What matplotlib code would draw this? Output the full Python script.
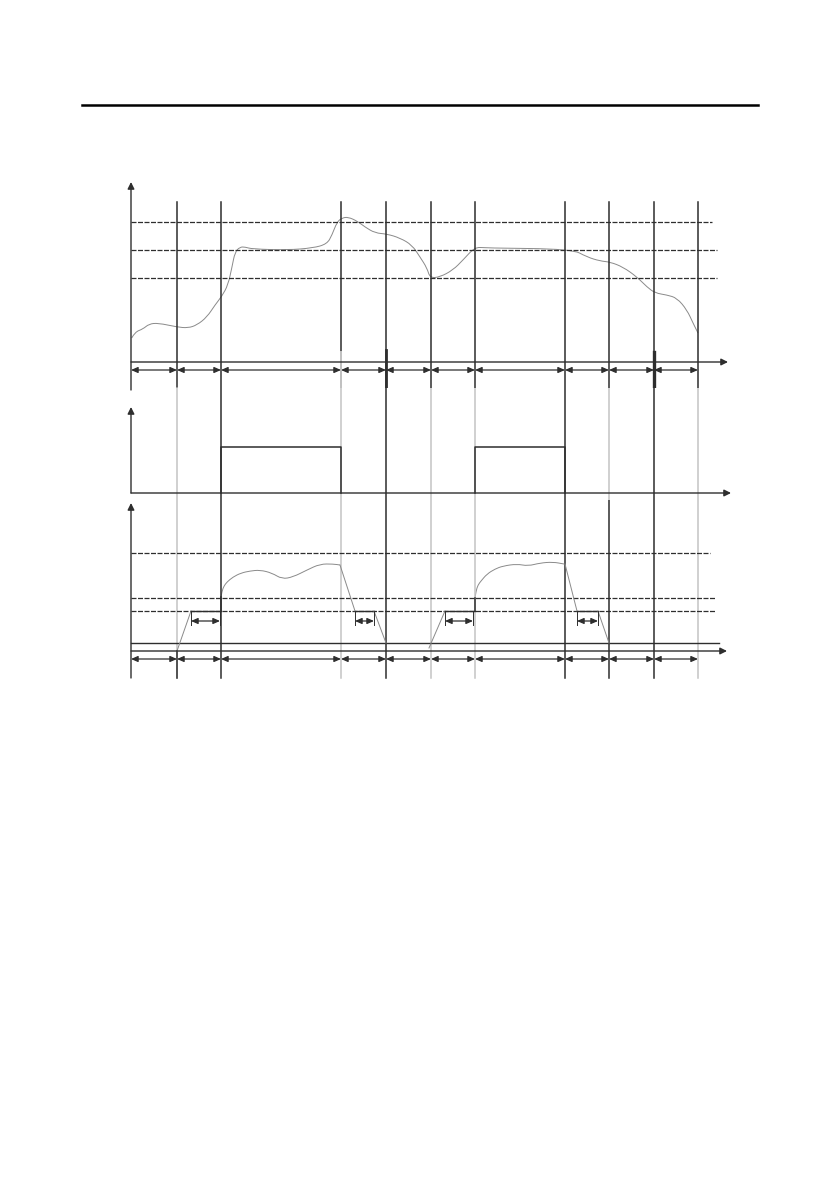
import matplotlib
matplotlib.use("Agg")
import matplotlib.pyplot as plt
from matplotlib.lines import Line2D
from matplotlib.path import Path
from matplotlib.patches import PathPatch

W, H = 839, 1191
DARK = "#2e2e2e"
LIGHT = "#c4c4c4"
CURVE = "#8a8a8a"

# ---------------- data ----------------
# event times (vertical markers), first is the origin
event_t = [0, 46, 90, 210, 255, 300, 344, 434, 478, 523, 567]

# top panel: speed reference levels and speed curve
top_levels = [84, 112, 140]
top_level_end = [586, 586, 581]
speed_t = [0.7, 4, 12, 18, 27, 46, 57, 66, 76, 84, 91, 97, 101, 104, 109, 114, 121, 156, 182,
           196, 201, 206, 211, 217, 226, 234, 244, 256, 269, 281, 289, 296, 299, 309, 322, 332,
           344, 354, 441, 456, 469, 479, 492, 506, 516, 524, 536, 546, 556, 562, 567]
speed_v = [24, 30, 33, 38, 39, 35, 34, 37, 45, 57, 66, 77, 95, 110, 115, 115, 113, 112, 114,
           118, 127, 140, 144, 145, 141, 135, 129, 128, 124, 117, 105, 94, 84, 85, 92, 102,
           115, 114, 113, 105, 101, 100, 95, 85, 75, 69, 67, 64, 52, 39, 29]

# middle panel: on/off signal
pulse_on = [90, 344]
pulse_off = [210, 434]
pulse_level = 46

# bottom panel: levels and output curve
bot_levels = [40, 53, 98]
bot_level_end = [585, 585, 579]
bot_solid_level = 8
bot_solid_end = 588
ramp_up_t = [[46, 60], [298, 314]]
ramp_up_v = [[0, 40], [3, 40]]
hold1_t = [[60, 90], [314, 344]]
step_v = [[40, 54], [40, 53]]
curve_t = [[90, 91, 93, 96, 102, 110, 119, 129, 141, 151, 162, 176, 189, 202, 209],
           [344, 345, 347, 350, 356, 364, 372, 386, 397, 409, 422, 433]]
curve_v = [[54, 60, 65, 69, 74, 78, 80, 81, 78, 72, 74, 81, 87, 87, 86],
           [53, 60, 66, 70, 77, 82, 85, 87, 85, 88, 89, 87]]
drop_t = [[209, 224], [434, 446]]
drop_v = [[86, 40], [87, 40]]
hold2_t = [[224, 243], [446, 467]]
ramp_dn_t = [[243, 255], [467, 478]]
ramp_dn_v = [[40, 8], [40, 8]]
small_arrows = [(60, 89), (224, 243), (314, 342), (446, 467)]

# vertical line colours per panel (for event_t[1:])
mid_dark = [False, True, False, True, False, False, True, False, True, False]
bot_dark = [False, True, False, True, False, False, True, True, True, False]

# ---------------- figure ----------------
fig = plt.figure(figsize=(W / 100, H / 100), dpi=100)
fig.patch.set_facecolor("white")

# header rule
fig.add_artist(Line2D([82 / W, 758 / W], [1 - 105 / H, 1 - 105 / H], color="black", lw=1.8))

x0, x1 = 100, 740
t_lo, t_hi = -31, 609


def make_ax(ytop, ybot, v_at_top):
    ax = fig.add_axes([x0 / W, 1 - ybot / H, (x1 - x0) / W, (ybot - ytop) / H])
    ax.set_xlim(t_lo, t_hi)
    ax.set_ylim(v_at_top - (ybot - ytop), v_at_top)
    ax.axis("off")
    return ax


ax_top = make_ax(175, 388, 187)
ax_mid = make_ax(388, 500, 105)
ax_bot = make_ax(500, 690, 151)


def smooth(ax, xs, ys, color=CURVE, lw=0.7):
    """Quadratic B-spline style rendering through the read points."""
    pts = list(zip(xs, ys))
    verts = [pts[0]]
    codes = [Path.MOVETO]
    for i in range(1, len(pts) - 1):
        mid = ((pts[i][0] + pts[i + 1][0]) / 2, (pts[i][1] + pts[i + 1][1]) / 2)
        verts += [pts[i], mid]
        codes += [Path.CURVE3, Path.CURVE3]
    verts.append(pts[-1])
    codes.append(Path.LINETO)
    ax.add_patch(PathPatch(Path(verts, codes), facecolor="none", edgecolor=color, lw=lw))


def axis_arrow(ax, start, end, ms=10):
    ax.annotate("", xy=end, xytext=start,
                arrowprops=dict(arrowstyle="-|>", color=DARK, lw=1.0, mutation_scale=ms,
                                shrinkA=0, shrinkB=0), annotation_clip=False)


def dbl_arrow(ax, a, b, y, lw=0.9, ms=8):
    ax.annotate("", xy=(b, y), xytext=(a, y),
                arrowprops=dict(arrowstyle="<|-|>,head_length=0.5,head_width=0.22", color=DARK,
                                lw=lw, mutation_scale=ms, shrinkA=0, shrinkB=0),
                annotation_clip=False)


dash = (0, (4, 1.2))

# ---- top panel ----
for lv, end in zip(top_levels, top_level_end):
    ax_top.plot([0, end], [lv, lv], color=DARK, lw=0.9, linestyle=dash)
for t in event_t[1:]:
    ax_top.plot([t, t], [-26, 160], color=DARK, lw=1.1)
smooth(ax_top, speed_t, speed_v)
axis_arrow(ax_top, (0, -28), (0, 180))
axis_arrow(ax_top, (0, 0), (597, 0))
for a, b in zip(event_t[:-1], event_t[1:]):
    dbl_arrow(ax_top, a, b, -8)
ax_top.plot([255, 255], [12, -26], color=DARK, lw=2.0)
ax_top.plot([523, 523], [10, -26], color=DARK, lw=2.4)
ax_top.plot([210, 210], [10, -26], color=LIGHT, lw=1.4)
ax_top.plot([46, 46], [-26, -28], color=LIGHT, lw=1.1)

# ---- middle panel ----
for t, d in zip(event_t[1:], mid_dark):
    ax_mid.plot([t, t], [-7, 105], color=DARK if d else LIGHT, lw=1.1)
for on, off in zip(pulse_on, pulse_off):
    ax_mid.plot([on, on, off, off], [0, pulse_level, pulse_level, 0], color=DARK, lw=1.1)
axis_arrow(ax_mid, (0, 0), (0, 86))
axis_arrow(ax_mid, (0, 0), (600, 0))

# ---- bottom panel ----
for t, d in zip(event_t[1:], bot_dark):
    ax_bot.plot([t, t], [-27, 151], color=DARK if d else LIGHT, lw=1.1)
ax_bot.plot([46, 46], [-27, 0], color=DARK, lw=1.1)
for lv, end in zip(bot_levels, bot_level_end):
    ax_bot.plot([0, end], [lv, lv], color=DARK, lw=0.9, linestyle=dash)
ax_bot.plot([0, bot_solid_end], [bot_solid_level] * 2, color=DARK, lw=1.0)
for i in range(2):
    ax_bot.plot(ramp_up_t[i], ramp_up_v[i], color=CURVE, lw=0.7)
    ax_bot.plot(hold1_t[i], [40, 40], color=DARK, lw=1.0)
    ax_bot.plot([curve_t[i][0]] * 2, step_v[i], color=DARK, lw=1.1)
    smooth(ax_bot, curve_t[i], curve_v[i])
    ax_bot.plot(drop_t[i], drop_v[i], color=CURVE, lw=0.7)
    ax_bot.plot(hold2_t[i], [40, 40], color=DARK, lw=1.0)
    ax_bot.plot(ramp_dn_t[i], ramp_dn_v[i], color=CURVE, lw=0.7)
for a, b in small_arrows:
    ax_bot.plot([a, a], [40, 26], color=DARK, lw=0.7)
    ax_bot.plot([b, b], [40, 26], color=DARK, lw=0.7)
    dbl_arrow(ax_bot, a, b, 30, lw=0.9, ms=8)
axis_arrow(ax_bot, (0, -27), (0, 148))
axis_arrow(ax_bot, (0, 0), (596, 0))
for a, b in zip(event_t[:-1], event_t[1:]):
    dbl_arrow(ax_bot, a, b, -8)

fig.savefig("out.png", dpi=100, facecolor="white")
